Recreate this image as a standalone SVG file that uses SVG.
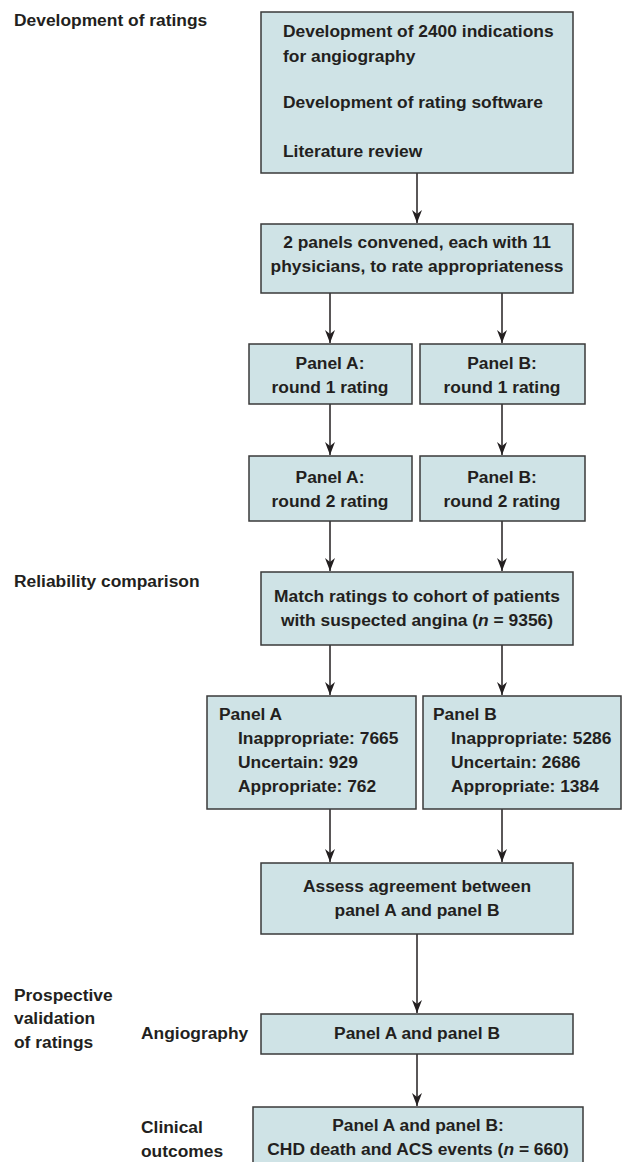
<svg xmlns="http://www.w3.org/2000/svg" width="623" height="1162" viewBox="0 0 623 1162">
<style>
text{font-family:"Liberation Sans",Arial,sans-serif;font-size:17.4px;font-weight:bold;fill:#231f20}
.c{text-anchor:middle}
.box{fill:#cfe3e6;stroke:#3a3a3a;stroke-width:1.5}
.con line{stroke:#231f20;stroke-width:1.5}
</style>
<defs>
<marker id="arr" viewBox="0 0 13 10" refX="13" refY="5" markerWidth="13" markerHeight="10" markerUnits="userSpaceOnUse" orient="auto">
<path d="M0,0 L13,5 L0,10 L4,5 Z" fill="#231f20"/>
</marker>
</defs>
<g id="labels">
<text x="14" y="26">Development of ratings</text>
<text x="14" y="587">Reliability comparison</text>
<text x="14" y="1001">Prospective</text>
<text x="14" y="1024">validation</text>
<text x="14" y="1048">of ratings</text>
<text x="141" y="1039">Angiography</text>
<text x="141" y="1133">Clinical</text>
<text x="141" y="1157">outcomes</text>
</g>
<g class="con" id="connectors">
<line x1="417" y1="173" x2="417" y2="223" marker-end="url(#arr)"/>
<line x1="330" y1="293" x2="330" y2="343" marker-end="url(#arr)"/>
<line x1="502" y1="293" x2="502" y2="343" marker-end="url(#arr)"/>
<line x1="330" y1="404" x2="330" y2="455" marker-end="url(#arr)"/>
<line x1="502" y1="404" x2="502" y2="455" marker-end="url(#arr)"/>
<line x1="330" y1="521" x2="330" y2="571" marker-end="url(#arr)"/>
<line x1="502" y1="521" x2="502" y2="571" marker-end="url(#arr)"/>
<line x1="330" y1="645" x2="330" y2="695" marker-end="url(#arr)"/>
<line x1="502" y1="645" x2="502" y2="695" marker-end="url(#arr)"/>
<line x1="330" y1="809" x2="330" y2="862" marker-end="url(#arr)"/>
<line x1="502" y1="809" x2="502" y2="862" marker-end="url(#arr)"/>
<line x1="417" y1="934" x2="417" y2="1013" marker-end="url(#arr)"/>
<line x1="417" y1="1054" x2="417" y2="1106" marker-end="url(#arr)"/>
</g>
<g id="n1">
<rect class="box" x="261" y="12" width="312" height="161"/>
<text x="283" y="37">Development of 2400 indications</text>
<text x="283" y="62">for angiography</text>
<text x="283" y="108">Development of rating software</text>
<text x="283" y="157">Literature review</text>
</g>
<g id="n2">
<rect class="box" x="261" y="224" width="312" height="69"/>
<text class="c" x="417" y="248">2 panels convened, each with 11</text>
<text class="c" x="417" y="272">physicians, to rate appropriateness</text>
</g>
<g id="n3a">
<rect class="box" x="249" y="344" width="163" height="60"/>
<text class="c" x="330" y="369">Panel A:</text>
<text class="c" x="330" y="393">round 1 rating</text>
</g>
<g id="n3b">
<rect class="box" x="420" y="344" width="165" height="60"/>
<text class="c" x="502" y="369">Panel B:</text>
<text class="c" x="502" y="393">round 1 rating</text>
</g>
<g id="n4a">
<rect class="box" x="249" y="456" width="163" height="65"/>
<text class="c" x="330" y="483">Panel A:</text>
<text class="c" x="330" y="507">round 2 rating</text>
</g>
<g id="n4b">
<rect class="box" x="420" y="456" width="165" height="65"/>
<text class="c" x="502" y="483">Panel B:</text>
<text class="c" x="502" y="507">round 2 rating</text>
</g>
<g id="n5">
<rect class="box" x="261" y="572" width="312" height="73"/>
<text class="c" x="417" y="602">Match ratings to cohort of patients</text>
<text class="c" x="417" y="626">with suspected angina (<tspan font-style="italic">n</tspan> = 9356)</text>
</g>
<g id="n6a">
<rect class="box" x="207" y="696" width="209" height="113"/>
<text x="219" y="720">Panel A</text>
<text x="238" y="744">Inappropriate: 7665</text>
<text x="238" y="768">Uncertain: 929</text>
<text x="238" y="792">Appropriate: 762</text>
</g>
<g id="n6b">
<rect class="box" x="423" y="696" width="198" height="113"/>
<text x="433" y="720">Panel B</text>
<text x="451" y="744">Inappropriate: 5286</text>
<text x="451" y="768">Uncertain: 2686</text>
<text x="451" y="792">Appropriate: 1384</text>
</g>
<g id="n7">
<rect class="box" x="261" y="863" width="312" height="71"/>
<text class="c" x="417" y="892">Assess agreement between</text>
<text class="c" x="417" y="916">panel A and panel B</text>
</g>
<g id="n8">
<rect class="box" x="261" y="1014" width="312" height="40"/>
<text class="c" x="417" y="1039">Panel A and panel B</text>
</g>
<g id="n9">
<rect class="box" x="253" y="1107" width="330" height="70"/>
<text class="c" x="418" y="1131">Panel A and panel B:</text>
<text class="c" x="418" y="1155">CHD death and ACS events (<tspan font-style="italic">n</tspan> = 660)</text>
</g>
</svg>
